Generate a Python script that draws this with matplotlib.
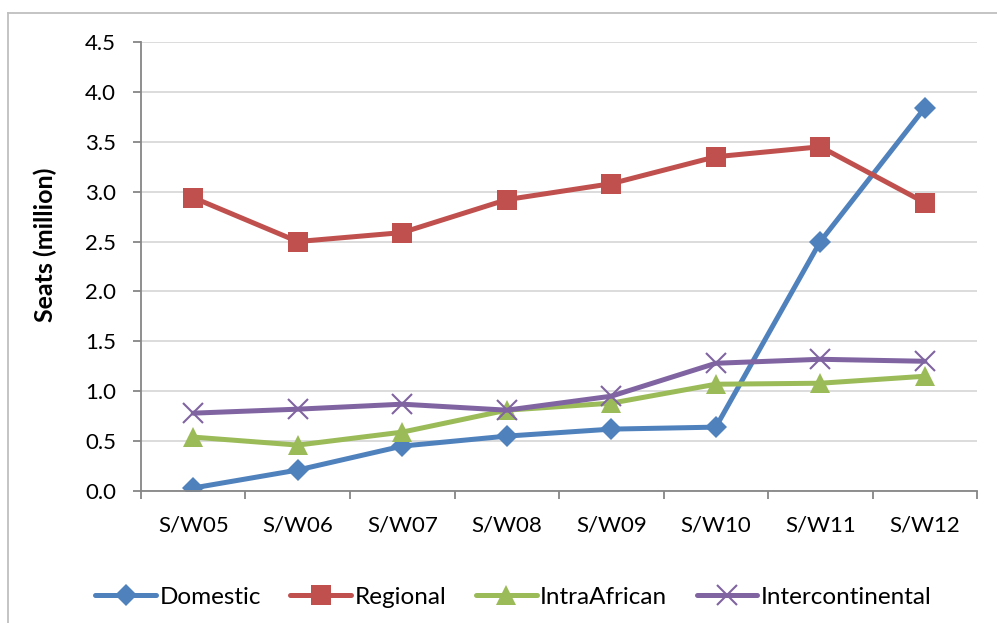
import matplotlib
matplotlib.use("Agg")
import matplotlib.pyplot as plt
from matplotlib.lines import Line2D

plt.rcParams['font.family'] = ['Lato', 'DejaVu Sans']

seasons = ['S/W05', 'S/W06', 'S/W07', 'S/W08', 'S/W09', 'S/W10', 'S/W11', 'S/W12']
domestic = [0.03, 0.21, 0.45, 0.55, 0.62, 0.64, 2.50, 3.84]
regional = [2.94, 2.50, 2.59, 2.92, 3.08, 3.35, 3.45, 2.89]
intra_african = [0.54, 0.46, 0.59, 0.81, 0.88, 1.07, 1.08, 1.15]
intercontinental = [0.78, 0.82, 0.87, 0.81, 0.95, 1.28, 1.32, 1.30]

series = [
    ('Domestic', domestic, '#4F81BD', 'D', 11),
    ('Regional', regional, '#C0504D', 's', 15),
    ('IntraAfrican', intra_african, '#9BBB59', '^', 15),
    ('Intercontinental', intercontinental, '#8064A2', 'x', 14),
]

fig = plt.figure(figsize=(9.97, 6.23), dpi=100)
ax = fig.add_axes([0.1414, 0.2119, 0.8386, 0.7207])

x = list(range(len(seasons)))
for name, vals, col, mk, ms in series:
    kw = dict(markeredgewidth=1.5) if mk == 'x' else dict(markeredgewidth=0)
    ax.plot(x, vals, color=col, lw=3.6, marker=mk, markersize=ms,
            markerfacecolor=col, markeredgecolor=col, label=name,
            solid_capstyle='round', **kw)

ax.set_xlim(-0.5, len(seasons) - 0.5)
ax.set_ylim(0, 4.5)
ax.set_yticks([i * 0.5 for i in range(10)])
ax.set_yticklabels(['%.1f' % (i * 0.5) for i in range(10)])
ax.set_xticks(x)
ax.set_xticklabels(seasons)
ax.set_xticks([i - 0.5 for i in range(len(seasons) + 1)], minor=True)

ax.grid(axis='y', color='#D9D9D9', lw=1.3)
ax.set_axisbelow(True)
for s in ['top', 'right']:
    ax.spines[s].set_visible(False)
for s in ['left', 'bottom']:
    ax.spines[s].set_color('#868686')
    ax.spines[s].set_linewidth(1.3)

ax.tick_params(axis='y', length=6, width=1.3, color='#868686', labelsize=16, pad=12)
ax.tick_params(axis='x', which='major', length=0, labelsize=16, pad=18)
ax.tick_params(axis='x', which='minor', length=6, width=1.3, color='#868686')

ax.set_ylabel('Seats (million)', fontsize=18, fontweight='bold')
ax.yaxis.set_label_coords(-0.1, 0.548)

ax.legend(loc='upper center', bbox_to_anchor=(0.4456, -0.165), ncol=4, frameon=False,
          fontsize=17.5, handlelength=2.5, handletextpad=0.15, columnspacing=1.2)

# outer chart frame (left and top edges)
fig.add_artist(Line2D([8 / 997, 8 / 997], [0, 1 - 13 / 623], color='#BFBFBF', lw=1.3))
fig.add_artist(Line2D([8 / 997, 1], [1 - 13 / 623, 1 - 13 / 623], color='#BFBFBF', lw=1.3))

fig.savefig('out.png', dpi=100)
